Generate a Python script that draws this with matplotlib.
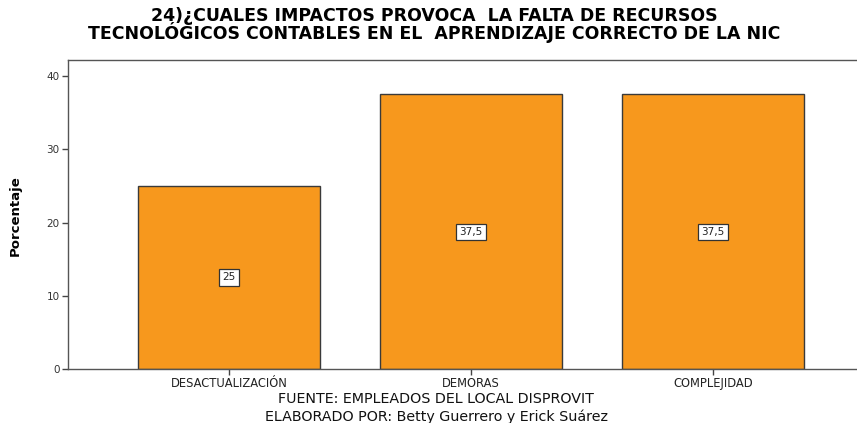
import matplotlib
matplotlib.use("Agg")
import matplotlib.pyplot as plt

categories = ["DESACTUALIZACIÓN", "DEMORAS", "COMPLEJIDAD"]
values = [25, 37.5, 37.5]
value_labels = ["25", "37,5", "37,5"]
yticks = [0, 10, 20, 30, 40]
title = "24)¿CUALES IMPACTOS PROVOCA  LA FALTA DE RECURSOS\nTECNOLÓGICOS CONTABLES EN EL  APRENDIZAJE CORRECTO DE LA NIC"
ylabel = "Porcentaje"
footer1 = "FUENTE: EMPLEADOS DEL LOCAL DISPROVIT"
footer2 = "ELABORADO POR: Betty Guerrero y Erick Suárez"

W, H = 857, 423
fig = plt.figure(figsize=(W / 100, H / 100), dpi=100)
ax = fig.add_axes([68 / W, 1 - 369 / H, (874 - 68) / W, (369 - 60) / H])

x = list(range(len(categories)))
ax.bar(x, values, width=0.752, color="#F7981D", edgecolor="#3a3a3a", linewidth=1.0, zorder=2)
for xi, v, lab in zip(x, values, value_labels):
    ax.text(xi, v / 2, lab, ha="center", va="center", fontsize=7.5, color="#222222",
            family="DejaVu Sans",
            bbox=dict(boxstyle="square,pad=0.3", facecolor="white", edgecolor="#333333", linewidth=0.9),
            zorder=3)

ax.set_xlim(-0.665, 2.665)
ax.set_ylim(0, 42.2)
ax.set_yticks(yticks)
ax.set_yticklabels([str(t) for t in yticks], fontsize=7.5, color="#333333", family="DejaVu Sans")
ax.set_xticks(x)
ax.set_xticklabels(categories, fontsize=8.3, color="#222222", family="DejaVu Sans")
ax.tick_params(axis="both", direction="out", length=4, width=1, color="#444444", pad=2)

for s in ["left", "bottom", "top", "right"]:
    ax.spines[s].set_color("#555555")
    ax.spines[s].set_linewidth(1.0)

fig.text(15 / W, 1 - 216 / H, ylabel, rotation=90, ha="center", va="center",
         fontsize=9.5, fontweight="bold", family="DejaVu Sans")

fig.text(434 / W, 1 - 25 / H, title, ha="center", va="center", fontsize=12.5,
         fontweight="bold", family="DejaVu Sans", linespacing=0.78)

fig.text(436 / W, 1 - 399 / H, footer1, ha="center", va="center", fontsize=10.3,
         family="DejaVu Sans", color="#111111")
fig.text(436 / W, 1 - 417 / H, footer2, ha="center", va="center", fontsize=10.3,
         family="DejaVu Sans", color="#111111")

fig.savefig("out.png", dpi=100)
